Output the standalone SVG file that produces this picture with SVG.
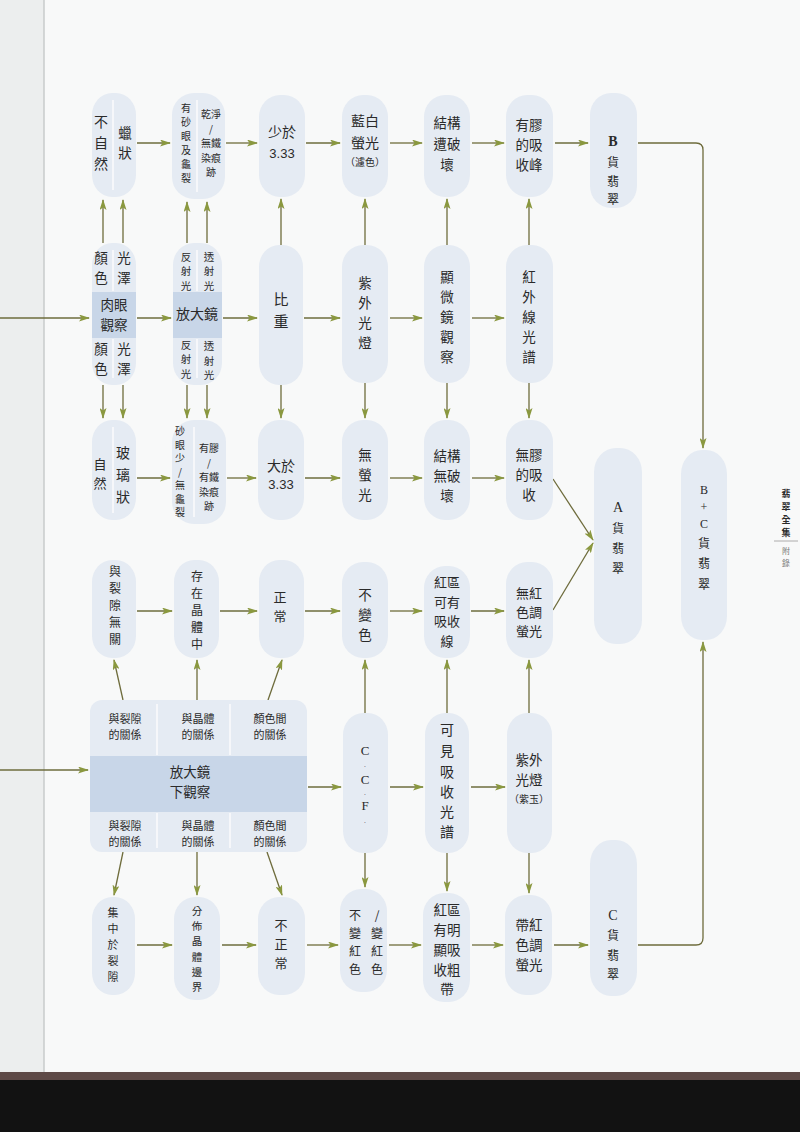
<svg xmlns="http://www.w3.org/2000/svg" width="800" height="1132" viewBox="0 0 800 1132">
<defs>
<marker id="ah" markerUnits="userSpaceOnUse" markerWidth="11" markerHeight="7" refX="10" refY="3.5" orient="auto">
<path d="M0,0 L11,3.5 L0,7 L2.5,3.5 z" fill="#8a983f"/>
</marker>
</defs>
<style>
.n{fill:#e5ebf3}
.band{fill:#c8d6e8}
.dv{stroke:#ffffff;stroke-width:1.5;opacity:.85}
.t{font-family:"Noto Sans CJK TC","Noto Sans CJK SC",sans-serif;font-size:14px;fill:#2a2a2a;text-anchor:middle}
.r{font-family:"Liberation Serif",serif}
.a{font-family:"Liberation Sans",sans-serif;font-size:13px}
.f15{font-size:15px}
.h{font-size:13.5px}
.g{font-size:13px}
.m{font-size:12px}
.s{font-size:11px}
.f105{font-size:10.5px}
.xs{font-size:10px}
.f9{font-size:9px}
.f8{font-size:8px}
.f7{font-size:7px}
.b{font-weight:bold}
.gr{fill:#777777}
.c{stroke:#6e6c3c;stroke-width:1.3;fill:none;marker-end:url(#ah)}
</style>
<rect width="800" height="1132" fill="#f8f9f9"/>
<rect x="0" y="0" width="44" height="1072" fill="#eceeee"/>
<line x1="44" y1="0" x2="44" y2="1072" stroke="#c9cbcb" stroke-width="1.5"/>
<rect x="0" y="1072" width="800" height="8" fill="#5e4a47"/>
<rect x="0" y="1080" width="800" height="52" fill="#121212"/>

<g id="connectors">
<path class="c" d="M0 318 H89"/>
<path class="c" d="M0 770 H88"/>
<path class="c" d="M137 143 H170"/>
<path class="c" d="M226 143 H257"/>
<path class="c" d="M306 143 H340"/>
<path class="c" d="M390 143 H422"/>
<path class="c" d="M472 143 H504"/>
<path class="c" d="M555 143 H588"/>
<path class="c" d="M137 318 H171"/>
<path class="c" d="M223 318 H257"/>
<path class="c" d="M304 318 H340"/>
<path class="c" d="M390 318 H422"/>
<path class="c" d="M472 318 H504"/>
<path class="c" d="M137 478 H170"/>
<path class="c" d="M227 478 H256"/>
<path class="c" d="M305 478 H340"/>
<path class="c" d="M390 478 H422"/>
<path class="c" d="M472 478 H504"/>
<path class="c" d="M553 479 L593 540"/>
<path class="c" d="M137 611 H172"/>
<path class="c" d="M220 611 H257"/>
<path class="c" d="M305 611 H340"/>
<path class="c" d="M390 611 H422"/>
<path class="c" d="M471 611 H504"/>
<path class="c" d="M553 610 L593 543"/>
<path class="c" d="M308 787 H341"/>
<path class="c" d="M390 787 H423"/>
<path class="c" d="M471 787 H505"/>
<path class="c" d="M137 945 H172"/>
<path class="c" d="M222 945 H256"/>
<path class="c" d="M307 945 H338"/>
<path class="c" d="M389 945 H421"/>
<path class="c" d="M472 945 H503"/>
<path class="c" d="M554 945 H588"/>
<path class="c" d="M103 243 V200"/>
<path class="c" d="M123 243 V200"/>
<path class="c" d="M187 243 V202"/>
<path class="c" d="M207 243 V202"/>
<path class="c" d="M281 245 V199"/>
<path class="c" d="M365 245 V199"/>
<path class="c" d="M447 245 V199"/>
<path class="c" d="M529 245 V199"/>
<path class="c" d="M103 385 V418"/>
<path class="c" d="M123 385 V418"/>
<path class="c" d="M187 385 V418"/>
<path class="c" d="M207 385 V418"/>
<path class="c" d="M281 385 V418"/>
<path class="c" d="M365 383 V418"/>
<path class="c" d="M447 383 V418"/>
<path class="c" d="M529 383 V418"/>
<path class="c" d="M365 713 V660"/>
<path class="c" d="M447 713 V660"/>
<path class="c" d="M529 713 V660"/>
<path class="c" d="M123 700 L114 660"/>
<path class="c" d="M197 700 V660"/>
<path class="c" d="M268 700 L282 660"/>
<path class="c" d="M365 853 V887"/>
<path class="c" d="M447 853 V891"/>
<path class="c" d="M529 853 V893"/>
<path class="c" d="M123 852 L114 895"/>
<path class="c" d="M197 852 V895"/>
<path class="c" d="M267 852 L282 895"/>
<path class="c" d="M638 143 H696 Q703 143 703 150 V448"/>
<path class="c" d="M638 945 H696 Q703 945 703 938 V642"/>
</g>

<g id="n-r1c1">
<rect class="n" x="92" y="93" width="44" height="104" rx="20" ry="22"/>
<line class="dv" x1="113" y1="100" x2="113" y2="190"/>
<text class="t"><tspan x="101" y="127">不</tspan><tspan x="101" y="148">自</tspan><tspan x="101" y="169">然</tspan></text>
<text class="t h"><tspan x="125" y="138">蠟</tspan><tspan x="125" y="158">狀</tspan></text>
</g>
<g id="n-r1c2">
<rect class="n" x="172" y="93" width="53" height="106" rx="22" ry="22"/>
<line class="dv" x1="197" y1="100" x2="197" y2="192"/>
<text class="t xs"><tspan x="186" y="112">有</tspan><tspan x="186" y="126">砂</tspan><tspan x="186" y="140">眼</tspan><tspan x="186" y="154">及</tspan><tspan x="186" y="168">龜</tspan><tspan x="186" y="182">裂</tspan></text>
<text class="t xs"><tspan x="211" y="118">乾淨</tspan><tspan x="211" y="132.5">/</tspan><tspan x="211" y="147">無鐵</tspan><tspan x="211" y="161.5">染痕</tspan><tspan x="211" y="176">跡</tspan></text>
</g>
<g id="n-r1c3">
<rect class="n" x="259" y="95" width="46" height="102" rx="21" ry="22"/>
<text class="t" x="282" y="137">少於</text>
<text class="t a" x="282" y="158">3.33</text>
</g>
<g id="n-r1c4">
<rect class="n" x="342" y="95" width="46" height="102" rx="21" ry="22"/>
<text class="t"><tspan x="365" y="126">藍白</tspan><tspan x="365" y="148">螢光</tspan></text>
<text class="t xs" x="365" y="166">（濾色）</text>
</g>
<g id="n-r1c5">
<rect class="n" x="424" y="95" width="46" height="102" rx="21" ry="22"/>
<text class="t h"><tspan x="447" y="128">結構</tspan><tspan x="447" y="149">遭破</tspan><tspan x="447" y="170">壞</tspan></text>
</g>
<g id="n-r1c6">
<rect class="n" x="506" y="95" width="47" height="102" rx="21" ry="22"/>
<text class="t h"><tspan x="529" y="130">有膠</tspan><tspan x="529" y="150">的吸</tspan><tspan x="529" y="170">收峰</tspan></text>
</g>
<g id="n-b">
<rect class="n" x="590" y="93" width="47" height="115" rx="21" ry="22"/>
<text class="t r b" x="613" y="146">B</text>
<text class="t m"><tspan x="613" y="167">貨</tspan><tspan x="613" y="185.5">翡</tspan><tspan x="613" y="204">翠</tspan></text>
</g>

<g id="n-r2c1">
<rect class="n" x="92" y="243" width="44" height="142" rx="20" ry="22"/>
<rect class="band" x="92" y="292" width="44" height="46"/>
<line class="dv" x1="113" y1="250" x2="113" y2="291"/>
<line class="dv" x1="113" y1="339" x2="113" y2="378"/>
<text class="t h"><tspan x="101" y="263">顏</tspan><tspan x="101" y="283">色</tspan></text>
<text class="t h"><tspan x="124" y="263">光</tspan><tspan x="124" y="283">澤</tspan></text>
<text class="t h"><tspan x="114" y="310">肉眼</tspan><tspan x="114" y="330">觀察</tspan></text>
<text class="t h"><tspan x="101" y="354">顏</tspan><tspan x="101" y="374">色</tspan></text>
<text class="t h"><tspan x="124" y="354">光</tspan><tspan x="124" y="374">澤</tspan></text>
</g>
<g id="n-r2c2">
<rect class="n" x="173" y="243" width="49" height="142" rx="21" ry="22"/>
<rect class="band" x="173" y="292" width="49" height="46"/>
<line class="dv" x1="197" y1="250" x2="197" y2="291"/>
<line class="dv" x1="197" y1="339" x2="197" y2="378"/>
<text class="t f105"><tspan x="186" y="260.7">反</tspan><tspan x="186" y="275.2">射</tspan><tspan x="186" y="289.7">光</tspan></text>
<text class="t f105"><tspan x="209" y="260.7">透</tspan><tspan x="209" y="275.2">射</tspan><tspan x="209" y="289.7">光</tspan></text>
<text class="t" x="197" y="319">放大鏡</text>
<text class="t f105"><tspan x="186" y="348.7">反</tspan><tspan x="186" y="363.2">射</tspan><tspan x="186" y="377.7">光</tspan></text>
<text class="t f105"><tspan x="209" y="350">透</tspan><tspan x="209" y="364.5">射</tspan><tspan x="209" y="379">光</tspan></text>
</g>
<g id="n-r2c3">
<rect class="n" x="259" y="245" width="44" height="140" rx="20" ry="22"/>
<text class="t f15"><tspan x="281" y="305">比</tspan><tspan x="281" y="327">重</tspan></text>
</g>
<g id="n-r2c4">
<rect class="n" x="342" y="245" width="46" height="138" rx="21" ry="22"/>
<text class="t h"><tspan x="365" y="288">紫</tspan><tspan x="365" y="308">外</tspan><tspan x="365" y="328">光</tspan><tspan x="365" y="348">燈</tspan></text>
</g>
<g id="n-r2c5">
<rect class="n" x="424" y="245" width="46" height="138" rx="21" ry="22"/>
<text class="t h"><tspan x="447" y="282">顯</tspan><tspan x="447" y="302">微</tspan><tspan x="447" y="322">鏡</tspan><tspan x="447" y="342">觀</tspan><tspan x="447" y="362">察</tspan></text>
</g>
<g id="n-r2c6">
<rect class="n" x="506" y="245" width="47" height="138" rx="21" ry="22"/>
<text class="t h"><tspan x="529" y="282">紅</tspan><tspan x="529" y="302">外</tspan><tspan x="529" y="322">線</tspan><tspan x="529" y="342">光</tspan><tspan x="529" y="362">譜</tspan></text>
</g>

<g id="n-r3c1">
<rect class="n" x="92" y="420" width="44" height="100" rx="20" ry="22"/>
<line class="dv" x1="113" y1="427" x2="113" y2="513"/>
<text class="t g"><tspan x="100" y="469">自</tspan><tspan x="100" y="488">然</tspan></text>
<text class="t"><tspan x="123" y="458">玻</tspan><tspan x="123" y="480">璃</tspan><tspan x="123" y="502">狀</tspan></text>
</g>
<g id="n-r3c2">
<rect class="n" x="172" y="420" width="54" height="104" rx="22" ry="22"/>
<line class="dv" x1="194" y1="427" x2="194" y2="517"/>
<text class="t xs"><tspan x="180" y="435">砂</tspan><tspan x="180" y="448.5">眼</tspan><tspan x="180" y="462">少</tspan><tspan x="180" y="475.5">/</tspan><tspan x="180" y="489">無</tspan><tspan x="180" y="502.5">龜</tspan><tspan x="180" y="516">裂</tspan></text>
<text class="t xs"><tspan x="209" y="452">有膠</tspan><tspan x="209" y="466.5">/</tspan><tspan x="209" y="481">有鐵</tspan><tspan x="209" y="495.5">染痕</tspan><tspan x="209" y="510">跡</tspan></text>
</g>
<g id="n-r3c3">
<rect class="n" x="258" y="420" width="46" height="100" rx="21" ry="22"/>
<text class="t" x="281" y="471">大於</text>
<text class="t a" x="281" y="489">3.33</text>
</g>
<g id="n-r3c4">
<rect class="n" x="342" y="420" width="46" height="100" rx="21" ry="22"/>
<text class="t h"><tspan x="365" y="460">無</tspan><tspan x="365" y="480">螢</tspan><tspan x="365" y="500">光</tspan></text>
</g>
<g id="n-r3c5">
<rect class="n" x="424" y="420" width="46" height="100" rx="21" ry="22"/>
<text class="t h"><tspan x="447" y="461">結構</tspan><tspan x="447" y="481">無破</tspan><tspan x="447" y="501">壞</tspan></text>
</g>
<g id="n-r3c6">
<rect class="n" x="506" y="420" width="47" height="100" rx="21" ry="22"/>
<text class="t h"><tspan x="529" y="460">無膠</tspan><tspan x="529" y="480">的吸</tspan><tspan x="529" y="500">收</tspan></text>
</g>

<g id="n-a">
<rect class="n" x="594" y="448" width="48" height="196" rx="22" ry="24"/>
<text class="t r" x="618" y="512">A</text>
<text class="t m"><tspan x="618" y="533">貨</tspan><tspan x="618" y="553">翡</tspan><tspan x="618" y="573">翠</tspan></text>
</g>
<g id="n-bc">
<rect class="n" x="681" y="450" width="46" height="190" rx="21" ry="24"/>
<text class="t r m" x="704" y="494">B</text>
<text class="t r m" x="704" y="511">+</text>
<text class="t r m" x="704" y="528">C</text>
<text class="t m"><tspan x="704" y="548">貨</tspan><tspan x="704" y="568">翡</tspan><tspan x="704" y="589">翠</tspan></text>
</g>

<g id="n-r4c1">
<rect class="n" x="92" y="560" width="44" height="98" rx="20" ry="22"/>
<text class="t m"><tspan x="115" y="576">與</tspan><tspan x="115" y="593">裂</tspan><tspan x="115" y="610">隙</tspan><tspan x="115" y="627">無</tspan><tspan x="115" y="644">關</tspan></text>
</g>
<g id="n-r4c2">
<rect class="n" x="174" y="560" width="45" height="98" rx="20" ry="22"/>
<text class="t m"><tspan x="197" y="581">存</tspan><tspan x="197" y="598">在</tspan><tspan x="197" y="615">晶</tspan><tspan x="197" y="632">體</tspan><tspan x="197" y="649">中</tspan></text>
</g>
<g id="n-r4c3">
<rect class="n" x="259" y="560" width="45" height="98" rx="20" ry="22"/>
<text class="t g"><tspan x="280" y="602">正</tspan><tspan x="280" y="621">常</tspan></text>
</g>
<g id="n-r4c4">
<rect class="n" x="342" y="562" width="46" height="96" rx="21" ry="22"/>
<text class="t h"><tspan x="365" y="600">不</tspan><tspan x="365" y="620">變</tspan><tspan x="365" y="640">色</tspan></text>
</g>
<g id="n-r4c5">
<rect class="n" x="424" y="566" width="46" height="92" rx="21" ry="22"/>
<text class="t g"><tspan x="447" y="587">紅區</tspan><tspan x="447" y="606.5">可有</tspan><tspan x="447" y="626">吸收</tspan><tspan x="447" y="645.5">線</tspan></text>
</g>
<g id="n-r4c6">
<rect class="n" x="506" y="562" width="47" height="96" rx="21" ry="22"/>
<text class="t g"><tspan x="529" y="598">無紅</tspan><tspan x="529" y="617">色調</tspan><tspan x="529" y="636">螢光</tspan></text>
</g>

<g id="n-r5box">
<rect class="n" x="90" y="700" width="217" height="152" rx="12" ry="12"/>
<rect class="band" x="90" y="756" width="217" height="56"/>
<line class="dv" x1="157" y1="704" x2="157" y2="755"/>
<line class="dv" x1="230" y1="704" x2="230" y2="755"/>
<line class="dv" x1="157" y1="813" x2="157" y2="848"/>
<line class="dv" x1="230" y1="813" x2="230" y2="848"/>
<text class="t s"><tspan x="125" y="723">與裂隙</tspan><tspan x="125" y="739">的關係</tspan></text>
<text class="t s"><tspan x="198" y="723">與晶體</tspan><tspan x="198" y="739">的關係</tspan></text>
<text class="t s"><tspan x="270" y="723">顏色間</tspan><tspan x="270" y="739">的關係</tspan></text>
<text class="t h"><tspan x="190" y="777">放大鏡</tspan><tspan x="190" y="797">下觀察</tspan></text>
<text class="t s"><tspan x="125" y="830">與裂隙</tspan><tspan x="125" y="846">的關係</tspan></text>
<text class="t s"><tspan x="198" y="830">與晶體</tspan><tspan x="198" y="846">的關係</tspan></text>
<text class="t s"><tspan x="270" y="830">顏色間</tspan><tspan x="270" y="846">的關係</tspan></text>
</g>
<g id="n-ccf">
<rect class="n" x="343" y="713" width="45" height="140" rx="20" ry="22"/>
<text class="t r g" x="365" y="755">C</text>
<text class="t r f7" x="365" y="769">·</text>
<text class="t r g" x="365" y="784">C</text>
<text class="t r f7" x="365" y="797">·</text>
<text class="t r g" x="365" y="810">F</text>
<text class="t r f7" x="365" y="825">·</text>
</g>
<g id="n-r5c5">
<rect class="n" x="425" y="713" width="44" height="140" rx="20" ry="22"/>
<text class="t"><tspan x="447" y="735">可</tspan><tspan x="447" y="756">見</tspan><tspan x="447" y="777">吸</tspan><tspan x="447" y="797">收</tspan><tspan x="447" y="817">光</tspan><tspan x="447" y="837">譜</tspan></text>
</g>
<g id="n-r5c6">
<rect class="n" x="507" y="713" width="45" height="140" rx="20" ry="22"/>
<text class="t h"><tspan x="529" y="765">紫外</tspan><tspan x="529" y="785">光燈</tspan></text>
<text class="t xs" x="529" y="803">（紫玉）</text>
</g>
<g id="n-c">
<rect class="n" x="590" y="840" width="47" height="156" rx="21" ry="24"/>
<text class="t r" x="613" y="920">C</text>
<text class="t m"><tspan x="613" y="940">貨</tspan><tspan x="613" y="960">翡</tspan><tspan x="613" y="979">翠</tspan></text>
</g>

<g id="n-r6c1">
<rect class="n" x="92" y="897" width="43" height="98" rx="20" ry="22"/>
<text class="t s"><tspan x="113" y="917">集</tspan><tspan x="113" y="933">中</tspan><tspan x="113" y="949">於</tspan><tspan x="113" y="965">裂</tspan><tspan x="113" y="981">隙</tspan></text>
</g>
<g id="n-r6c2">
<rect class="n" x="174" y="897" width="46" height="103" rx="21" ry="22"/>
<text class="t f105"><tspan x="197" y="915">分</tspan><tspan x="197" y="930.2">佈</tspan><tspan x="197" y="945.4">晶</tspan><tspan x="197" y="960.6">體</tspan><tspan x="197" y="975.8">邊</tspan><tspan x="197" y="991">界</tspan></text>
</g>
<g id="n-r6c3">
<rect class="n" x="258" y="897" width="47" height="98" rx="21" ry="22"/>
<text class="t g"><tspan x="281" y="930">不</tspan><tspan x="281" y="949">正</tspan><tspan x="281" y="968">常</tspan></text>
</g>
<g id="n-r6c4">
<rect class="n" x="340" y="889" width="47" height="103" rx="21" ry="22"/>
<text class="t m"><tspan x="355" y="920">不</tspan><tspan x="355" y="938">變</tspan><tspan x="355" y="956">紅</tspan><tspan x="355" y="974">色</tspan></text>
<text class="t m"><tspan x="377" y="920">/</tspan><tspan x="377" y="938">變</tspan><tspan x="377" y="956">紅</tspan><tspan x="377" y="974">色</tspan></text>
</g>
<g id="n-r6c5">
<rect class="n" x="423" y="893" width="47" height="109" rx="21" ry="22"/>
<text class="t h"><tspan x="447" y="915">紅區</tspan><tspan x="447" y="935">有明</tspan><tspan x="447" y="955">顯吸</tspan><tspan x="447" y="974.5">收粗</tspan><tspan x="447" y="994">帶</tspan></text>
</g>
<g id="n-r6c6">
<rect class="n" x="505" y="895" width="47" height="100" rx="21" ry="22"/>
<text class="t h"><tspan x="529" y="930">帶紅</tspan><tspan x="529" y="950">色調</tspan><tspan x="529" y="970">螢光</tspan></text>
</g>

<g id="side-label">
<text class="t f9 b"><tspan x="786" y="497">翡</tspan><tspan x="786" y="510">翠</tspan><tspan x="786" y="523">全</tspan><tspan x="786" y="536">集</tspan></text>
<line x1="774" y1="541" x2="798" y2="541" stroke="#999" stroke-width="0.8"/>
<text class="t f8 gr"><tspan x="786" y="554">附</tspan><tspan x="786" y="566">錄</tspan></text>
</g>
</svg>
